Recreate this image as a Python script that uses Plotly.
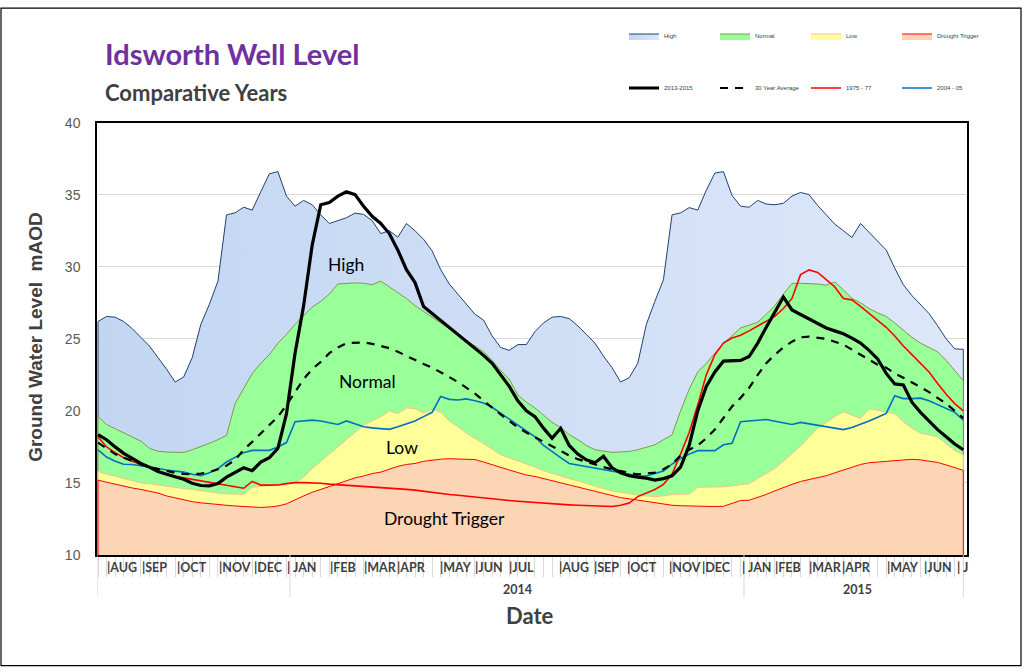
import plotly.graph_objects as go

# ---------------- data (weekly, late Jul 2013 -> early Jul 2015) ----------------
weeks = list(range(102))

high = [26.2, 26.55, 26.5, 26.2, 25.7, 25.1, 24.5, 23.7, 22.9, 22.0,
        22.35, 23.7, 26.0, 27.4, 29.0, 33.6, 33.74, 34.13, 33.93, 35.2,
        36.45, 36.6, 34.9, 34.2, 34.6, 34.3, 33.6, 33.0, 33.2, 33.4,
        33.72, 33.63, 33.2, 32.3, 32.5, 32.05, 33.0, 32.5, 31.9, 31.1,
        29.8, 28.8, 28.1, 27.4, 26.7, 26.3, 25.2, 24.4, 24.2, 24.6,
        24.6, 25.5, 26.1, 26.5, 26.55, 26.4, 25.9, 25.3, 24.7, 23.8,
        23.0, 22.0, 22.3, 23.3, 26.0, 27.6, 29.1, 33.6, 33.74, 34.1,
        33.93, 35.3, 36.5, 36.6, 34.95, 34.2, 34.13, 34.6, 34.35, 34.3,
        34.4, 34.9, 35.15, 35.0, 34.25, 33.6, 32.95, 32.5, 32.03, 33.0,
        32.4, 31.8, 31.16, 29.9, 28.75, 28.0, 27.4, 26.75, 25.9, 25.0,
        24.3, 24.27]

normal = [19.6, 19.05, 18.75, 18.45, 18.15, 17.9, 17.4, 17.2, 17.14, 17.12,
          17.12, 17.3, 17.5, 17.75, 18.0, 18.3, 20.5, 21.5, 22.6, 23.3,
          23.9, 24.7, 25.3, 26.0, 26.6, 27.2, 27.6, 28.1, 28.8, 28.85,
          28.88, 28.85, 28.75, 29.0, 28.6, 28.2, 27.8, 27.3, 26.9, 26.5,
          26.1, 25.7, 25.3, 24.9, 24.5, 24.1, 23.5, 22.8, 22.2, 21.1,
          20.6, 20.2, 19.7, 19.2, 18.85, 18.35, 18.0, 17.6, 17.3, 17.2,
          17.12, 17.15, 17.19, 17.3, 17.5, 17.65, 18.0, 18.33, 20.0, 21.5,
          22.7, 23.3, 24.0, 24.7, 25.2, 25.75, 25.95, 26.15, 26.7, 27.3,
          28.1, 28.84, 28.85, 28.85, 28.8, 28.72, 28.95, 28.4, 27.8, 27.5,
          27.1, 26.8, 26.55, 26.1, 25.6, 25.1, 24.7, 24.4, 24.1, 23.5,
          22.8, 22.1]

low = [15.8, 15.6, 15.48, 15.3, 15.15, 15.0, 14.95, 14.85, 14.79, 14.7,
       14.6, 14.55, 14.45, 14.4, 14.3, 14.25, 14.2, 14.2, 14.7, 14.75,
       14.85, 14.9, 14.95, 15.0, 15.4, 16.0, 16.5, 17.0, 17.5, 18.0,
       18.5, 19.0, 19.3, 19.6, 20.0, 19.8, 20.2, 20.15, 19.85, 20.1,
       19.9, 19.3, 18.9, 18.45, 18.1, 17.75, 17.35, 16.95, 16.75, 16.55,
       16.3, 16.1, 15.85, 15.65, 15.5, 15.3, 15.15, 14.95, 14.75, 14.6,
       14.45, 14.34, 14.25, 14.15, 14.1, 14.05, 14.1, 14.2, 14.22, 14.22,
       14.7, 14.7, 14.72, 14.73, 14.8, 14.9, 14.95, 15.3, 15.65, 16.0,
       16.5, 17.0, 17.55, 18.2, 18.8, 19.2, 19.6, 19.93, 19.72, 19.47,
       20.15, 20.05, 19.9, 19.8, 19.25, 18.8, 18.45, 18.35, 18.2, 17.7,
       17.25, 16.96]

drought = [15.2, 15.05, 14.9, 14.75, 14.65, 14.55, 14.45, 14.3, 14.1, 13.95,
           13.85, 13.7, 13.62, 13.55, 13.48, 13.45, 13.4, 13.36, 13.32, 13.3,
           13.33, 13.4, 13.55, 13.85, 14.1, 14.35, 14.55, 14.75, 14.98, 15.2,
           15.35, 15.48, 15.65, 15.75, 15.95, 16.15, 16.28, 16.35, 16.5, 16.6,
           16.65, 16.68, 16.66, 16.64, 16.62, 16.45, 16.25, 16.05, 15.9, 15.72,
           15.55, 15.45, 15.3, 15.15, 15.0, 14.85, 14.7, 14.55, 14.4, 14.25,
           14.1, 13.98, 13.9, 13.8, 13.7, 13.6, 13.5, 13.45, 13.42, 13.4,
           13.38, 13.37, 13.36, 13.38, 13.6, 13.78, 13.8, 13.98, 14.2, 14.45,
           14.7, 14.9, 15.1, 15.22, 15.33, 15.5, 15.7, 15.88, 16.1, 16.28,
           16.4, 16.45, 16.5, 16.58, 16.62, 16.64, 16.6, 16.52, 16.42, 16.25,
           16.05, 15.87]

y2013_2015 = [18.35, 18.0, 17.5, 17.05, 16.7, 16.35, 16.1, 15.8, 15.6, 15.45,
              15.25, 14.98, 14.82, 14.8, 14.95, 15.4, 15.75, 16.05, 15.85, 16.45,
              16.75, 17.4, 19.8, 24.0, 27.3, 31.5, 34.3, 34.45, 34.9, 35.2,
              35.0, 34.2, 33.5, 33.0, 32.3, 31.15, 29.8, 28.9, 27.24, 26.76,
              26.3, 25.8, 25.35, 24.8, 24.35, 23.85, 23.3, 22.5, 21.7, 20.7,
              20.0, 19.6, 18.8, 18.1, 18.79, 17.6, 17.0, 16.6, 16.4, 16.85,
              16.05, 15.7, 15.5, 15.4, 15.33, 15.2, 15.3, 15.5, 16.1, 17.6,
              20.0, 21.7, 22.7, 23.45, 23.48, 23.5, 23.77, 24.7, 25.8, 26.9,
              27.9, 27.0, 26.7, 26.4, 26.05, 25.75, 25.55, 25.35, 25.05, 24.7,
              24.2, 23.6, 22.6, 21.87, 21.8, 20.6, 19.9, 19.3, 18.7, 18.2,
              17.7, 17.3]

avg30 = [17.8, 17.4, 17.0, 16.75, 16.5, 16.3, 16.1, 15.95, 15.82, 15.7,
         15.62, 15.6, 15.65, 15.75, 15.95, 16.2, 16.6, 17.3, 17.85, 18.45,
         19.0, 19.6, 20.4, 21.3, 22.2, 22.9, 23.4, 24.0, 24.4, 24.7,
         24.75, 24.75, 24.65, 24.5, 24.35, 24.1, 23.8, 23.5, 23.25, 23.0,
         22.7, 22.35, 22.0, 21.6, 21.2, 20.7, 20.2, 19.75, 19.3, 18.85,
         18.5, 18.15, 17.85, 17.55, 17.2, 16.9, 16.65, 16.45, 16.28, 16.1,
         15.95, 15.8, 15.7, 15.6, 15.65, 15.72, 15.95, 16.3, 16.9, 17.3,
         17.6, 18.1, 18.7, 19.5, 20.3, 20.9, 21.6, 22.5, 23.3, 23.9,
         24.4, 24.8, 25.1, 25.15, 25.1, 25.0, 24.8, 24.6, 24.25, 23.9,
         23.5, 23.2, 23.0, 22.6, 22.3, 22.0, 21.65, 21.3, 20.9, 20.5,
         20.0, 19.5]

y1975_77 = [18.2, 17.5, 17.1, 16.75, 16.5, 16.3, 16.05, 15.8, 15.6, 15.45,
            15.35, 15.25, 15.15, 15.0, 14.92, 14.8, 14.75, 14.63, 15.1, 14.85,
            14.85, 14.86, 14.95, 15.02, 15.02, 15.02, 14.98, 14.92, 14.88, 14.84,
            14.8, 14.77, 14.74, 14.7, 14.68, 14.62, 14.55, 14.5, 14.42, 14.32,
            14.25, 14.2, 14.15, 14.08, 14.02, 13.96, 13.9, 13.83, 13.78, 13.73,
            13.68, 13.63, 13.6, 13.56, 13.52, 13.48, 13.45, 13.42, 13.4, 13.38,
            13.36, 13.45, 13.6, 14.05, 14.3, 14.55, 14.9, 15.6, 17.0, 18.5,
            20.4, 22.5, 23.9, 24.7, 25.05, 25.25, 25.55, 25.9, 26.2, 26.55,
            27.1, 27.8, 29.45, 29.78, 29.6, 29.1, 28.6, 27.8, 27.7, 27.25,
            26.75, 26.25, 25.8, 25.2, 24.5, 23.9, 23.3, 22.7, 21.9, 21.15,
            20.5, 20.0]

y2004_05 = [17.3, 16.8, 16.5, 16.3, 16.28, 16.2, 16.1, 16.0, 15.9, 15.85,
            15.75, 15.6, 15.5, 15.7, 16.0, 16.45, 16.8, 17.1, 17.26, 17.26,
            17.26, 17.5, 17.8, 19.25, 19.3, 19.36, 19.3, 19.2, 19.06, 19.3,
            19.1, 18.9, 18.82, 18.78, 18.72, 18.9, 19.1, 19.3, 19.6, 19.9,
            21.0, 20.8, 20.75, 20.83, 20.7, 20.55, 20.25, 19.85, 19.45, 19.05,
            18.6, 18.2, 17.6, 17.15, 16.75, 16.35, 16.25, 16.15, 16.05, 15.95,
            15.85, 15.7, 15.6, 15.5, 15.48, 15.65, 15.82, 16.3, 16.7, 17.0,
            17.24, 17.24, 17.24, 17.65, 17.75, 19.25, 19.28, 19.35, 19.4, 19.3,
            19.2, 19.06, 19.2, 19.1, 18.95, 18.88, 18.8, 18.7, 18.85, 19.05,
            19.3, 19.55, 19.82, 21.05, 20.85, 20.85, 20.88, 20.7, 20.45, 20.2,
            19.9, 19.36]

month_labels = ["|AUG", "|SEP", "|OCT", "|NOV", "|DEC", "| JAN", "|FEB", "|MAR",
                "|APR", "|MAY", "|JUN", "|JUL",
                "|AUG", "|SEP", "|OCT", "|NOV", "|DEC", "| JAN", "|FEB", "|MAR",
                "|APR", "|MAY", "|JUN", "| J"]
month_label_week = [0.82, 4.9, 8.99, 13.89, 17.97, 21.83, 26.85, 30.82,
                    34.67, 39.69, 43.77, 47.74,
                    53.58, 57.66, 61.51, 66.42, 70.27, 74.94, 78.79, 82.76,
                    86.61, 91.86, 96.18, 100.03]
year_labels = ["2014", "2015"]
year_label_week = [49.0, 88.6]
group_bounds = [-0.117, 22.41, 75.4, 101.0]

band_names = ["High", "Normal", "Low", "Drought Trigger"]
line_names = ["2013-2015", "30 Year Average", "1975 - 77", "2004 - 05"]

# ---------------- layout geometry ----------------
W, H = 1024, 672
L, R, T, B = 97, 967, 117, 555


def xp(px):
    return (px - L) / (R - L)


def yp(py):
    return (B - py) / (B - T)


YMIN = 10
fig = go.Figure()


def band(name, vals, line_color, fillcolor=None, grad=None):
    x = [weeks[0]] + weeks + [weeks[-1]]
    y = [YMIN] + vals + [YMIN]
    kw = dict(x=x, y=y, mode="lines", fill="toself", name=name,
              line=dict(color=line_color, width=1), legend="legend",
              hoverinfo="skip")
    if grad is not None:
        kw["fillgradient"] = dict(type="horizontal", colorscale=grad)
    else:
        kw["fillcolor"] = fillcolor
    fig.add_trace(go.Scatter(**kw))


band(band_names[0], high, "#22406E", grad=[[0, "#C2D6F2"], [1, "#DDE7F9"]])
band(band_names[1], normal, "#7F9A48", fillcolor="#99FF99")
band(band_names[2], low, "#FAC08F", fillcolor="#FFFF99")
band(band_names[3], drought, "#FF0000", fillcolor="#FCD5B5")

fig.add_trace(go.Scatter(x=weeks, y=y2004_05, mode="lines", name=line_names[3],
                         line=dict(color="#0070C0", width=1.6), legend="legend2"))
fig.add_trace(go.Scatter(x=weeks, y=y1975_77, mode="lines", name=line_names[2],
                         line=dict(color="#FF0000", width=1.6), legend="legend2"))
fig.add_trace(go.Scatter(x=weeks, y=avg30, mode="lines", name=line_names[1],
                         line=dict(color="#000000", width=2.2, dash="8px,7px"),
                         legend="legend2"))
fig.add_trace(go.Scatter(x=weeks, y=y2013_2015, mode="lines", name=line_names[0],
                         line=dict(color="#000000", width=3.2), legend="legend2"))

legend_common = dict(orientation="h", xref="container", yref="container",
                     xanchor="left", yanchor="middle", entrywidth=46,
                     entrywidthmode="pixels", itemwidth=30,
                     font=dict(size=6, family="Liberation Sans", color="#404040"),
                     bgcolor="rgba(0,0,0,0)")

fig.update_layout(
    width=W, height=H,
    margin=dict(l=L, r=W - R, t=T, b=H - B, pad=0),
    paper_bgcolor="white", plot_bgcolor="white",
    showlegend=True,
    legend=dict(x=624 / W, y=1 - 36 / H, traceorder="normal", **legend_common),
    legend2=dict(x=624 / W, y=1 - 88 / H, traceorder="reversed", **legend_common),
    xaxis=dict(range=[-0.117, 101.43], showgrid=False, zeroline=False,
               showline=True, linecolor="black", linewidth=1.5, mirror=True,
               tickmode="array", tickvals=weeks, ticktext=[""] * len(weeks),
               ticks="outside", ticklen=20, tickcolor="#D9D9D9", tickwidth=1),
    yaxis=dict(range=[10, 40], tickmode="array", tickvals=[10, 15, 20, 25, 30, 35, 40],
               showgrid=True, gridcolor="#D9D9D9", gridwidth=1, zeroline=False,
               showline=True, linecolor="black", linewidth=1.5, mirror=True,
               ticks="", ticklabelstandoff=12,
               tickfont=dict(family="Liberation Sans", size=14, color="#595959")),
)

shapes = []
for gb in group_bounds:
    shapes.append(dict(type="line", xref="x", yref="paper", x0=gb, x1=gb,
                       y0=yp(555), y1=yp(598), line=dict(color="#D9D9D9", width=1)))
# outer chart border
shapes.append(dict(type="rect", xref="paper", yref="paper", x0=xp(1), x1=xp(1021),
                   y0=yp(667), y1=yp(1), line=dict(color="black", width=1.2),
                   fillcolor="rgba(0,0,0,0)", layer="above"))
fig.update_layout(shapes=shapes)

ann = []
ann.append(dict(text="<b>Idsworth Well Level</b>", xref="paper", yref="paper",
                x=xp(103), y=yp(47), xanchor="left", yanchor="middle", showarrow=False,
                font=dict(family="Lato", size=29, color="#7030A0")))
ann.append(dict(text="<b>Comparative Years</b>", xref="paper", yref="paper",
                x=xp(103), y=yp(87), xanchor="left", yanchor="middle", showarrow=False,
                font=dict(family="Lato", size=22, color="#404040")))
ann.append(dict(text="<b>Ground Water Level  mAOD</b>", xref="paper", yref="paper",
                x=xp(36), y=yp(334), xanchor="center", yanchor="middle", showarrow=False,
                textangle=-90, font=dict(family="Liberation Sans", size=19, color="#404040")))
ann.append(dict(text="<b>Date</b>", xref="paper", yref="paper",
                x=xp(530), y=yp(616), xanchor="center", yanchor="middle", showarrow=False,
                font=dict(family="Lato", size=22, color="#404040")))
for lab, wk in zip(month_labels, month_label_week):
    ann.append(dict(text="<b>" + lab + "</b>", xref="x", yref="paper", x=wk, y=yp(568),
                    xanchor="left", yanchor="middle", showarrow=False,
                    font=dict(family="Lato", size=12.5, color="#404040")))
for lab, wk in zip(year_labels, year_label_week):
    ann.append(dict(text="<b>" + lab + "</b>", xref="x", yref="paper", x=wk, y=yp(590),
                    xanchor="center", yanchor="middle", showarrow=False,
                    font=dict(family="Lato", size=12.5, color="#404040")))
# band labels inside the plot
band_label_pos = [(28.95, 30.14), (31.4, 22.05), (35.5, 17.47), (40.4, 12.53)]
for lab, (wx, wy) in zip(band_names, band_label_pos):
    ann.append(dict(text=lab, xref="x", yref="y", x=wx, y=wy, showarrow=False,
                    xanchor="center", yanchor="middle",
                    font=dict(family="Lato", size=17.5, color="#000000")))
fig.update_layout(annotations=ann)

fig.write_html("out.html")
